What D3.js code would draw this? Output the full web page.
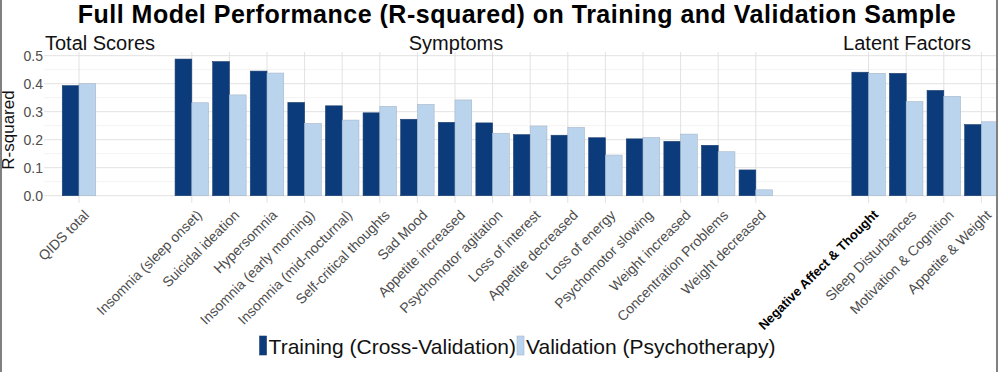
<!DOCTYPE html>
<html>
<head>
<meta charset="utf-8">
<script src="https://cdn.jsdelivr.net/npm/d3@7.9.0/dist/d3.min.js"></script>
<style>
  body { margin: 0; background: #fff; }
  svg { display: block; font-family: "Liberation Sans", Arial, sans-serif; }
</style>
</head>
<body>
<svg id="chart" width="1000" height="372"></svg>
<script>
// --- data ---
const totalLabels = ['QIDS total'];
const symptomLabels = [
  'Insomnia (sleep onset)', 'Suicidal ideation', 'Hypersomnia', 'Insomnia (early morning)',
  'Insomnia (mid-nocturnal)', 'Self-critical thoughts', 'Sad Mood', 'Appetite increased',
  'Psychomotor agitation', 'Loss of interest', 'Appetite decreased', 'Loss of energy',
  'Psychomotor slowing', 'Weight increased', 'Concentration Problems', 'Weight decreased'
];
const factorLabels = ['Negative Affect & Thought', 'Sleep Disturbances', 'Motivation & Cognition', 'Appetite & Weight'];

const trainingTotal = [0.393];
const validationTotal = [0.400];
const trainingSymptoms = [0.488, 0.479, 0.445, 0.333, 0.321, 0.296, 0.273, 0.262, 0.260, 0.218, 0.216, 0.207, 0.203, 0.194, 0.180, 0.092];
const validationSymptoms = [0.332, 0.360, 0.438, 0.258, 0.270, 0.319, 0.326, 0.342, 0.223, 0.249, 0.244, 0.145, 0.208, 0.220, 0.157, 0.021];
const trainingFactors = [0.441, 0.437, 0.376, 0.254];
const validationFactors = [0.437, 0.336, 0.355, 0.264];

const seriesNames = ['Training (Cross-Validation)', 'Validation (Psychotherapy)'];
const groupTitles = ['Total Scores', 'Symptoms', 'Latent Factors'];
const yTicks = [0, 0.1, 0.2, 0.3, 0.4, 0.5];
const yMinorTicks = [0.05, 0.15, 0.25, 0.35, 0.45];
const boldLabels = ['Negative Affect & Thought'];

const colors = { [seriesNames[0]]: '#0b3b7b', [seriesNames[1]]: '#bbd4ee' };

function drawChart() {
  const svg = d3.select('#chart');
  svg.selectAll('*').remove();

  // slot domain: groups separated by two empty slots
  const slots = [...totalLabels, '_g1', '_g2', ...symptomLabels, '_g3', '_g4', ...factorLabels];
  const labels = [...totalLabels, ...symptomLabels, ...factorLabels];
  const training = [...trainingTotal, ...trainingSymptoms, ...trainingFactors];
  const validation = [...validationTotal, ...validationSymptoms, ...validationFactors];

  const rows = [];
  labels.forEach((c, i) => {
    rows.push({ cat: c, series: seriesNames[0], value: training[i] });
    rows.push({ cat: c, series: seriesNames[1], value: validation[i] });
  });

  const step = 37.6;
  const x = d3.scalePoint().domain(slots).range([79, 79 + (slots.length - 1) * step]);
  const xInner = d3.scaleBand().domain(seriesNames).range([-step * 0.445, step * 0.445]);
  const y = d3.scaleLinear().domain([0, 0.5]).range([195.7, 55.7]);

  const panel = { left: 44, right: 996, top: 52, bottom: 203 };

  svg.append('defs').append('clipPath').attr('id', 'clip')
    .append('rect').attr('x', panel.left).attr('y', 0)
    .attr('width', panel.right - panel.left).attr('height', 372);

  const plot = svg.append('g').attr('clip-path', 'url(#clip)');

  // grid
  plot.selectAll('line.minor').data(yMinorTicks).join('line')
    .attr('class', 'minor')
    .attr('x1', panel.left).attr('x2', panel.right)
    .attr('y1', (d) => y(d)).attr('y2', (d) => y(d))
    .attr('stroke', '#efefef').attr('stroke-width', 0.8);

  plot.selectAll('line.major').data(yTicks).join('line')
    .attr('class', 'major')
    .attr('x1', panel.left).attr('x2', panel.right)
    .attr('y1', (d) => y(d)).attr('y2', (d) => y(d))
    .attr('stroke', '#e2e2e2').attr('stroke-width', 1);

  plot.selectAll('line.vgrid').data(labels).join('line')
    .attr('class', 'vgrid')
    .attr('x1', (d) => x(d)).attr('x2', (d) => x(d))
    .attr('y1', panel.top).attr('y2', panel.bottom)
    .attr('stroke', '#e2e2e2').attr('stroke-width', 1);

  // bars
  plot.selectAll('rect.bar').data(rows).join('rect')
    .attr('class', 'bar')
    .attr('x', (d) => x(d.cat) + xInner(d.series))
    .attr('width', xInner.bandwidth())
    .attr('y', (d) => y(d.value))
    .attr('height', (d) => y(0) - y(d.value))
    .attr('fill', (d) => colors[d.series])
    .attr('stroke', (d) => (d.series === seriesNames[0] ? '#1d3f70' : '#a6b6c8'))
    .attr('stroke-width', 0.6);

  // y axis labels
  svg.selectAll('text.ytick').data(yTicks).join('text')
    .attr('class', 'ytick')
    .attr('x', 43).attr('y', (d) => y(d))
    .attr('dy', '0.36em')
    .attr('text-anchor', 'end')
    .attr('font-size', 14)
    .attr('fill', '#4d4d4d')
    .text((d) => d3.format('.1f')(d));

  svg.append('text')
    .attr('transform', 'translate(14,130) rotate(-90)')
    .attr('text-anchor', 'middle')
    .attr('font-size', 17)
    .attr('fill', '#111')
    .text('R-squared');

  // x labels, rotated 45 degrees
  svg.selectAll('text.xtick').data(labels).join('text')
    .attr('class', 'xtick')
    .attr('transform', (d) => `translate(${x(d) + 4},${209}) rotate(-45)`)
    .attr('text-anchor', 'end')
    .attr('dy', '0.7em')
    .attr('font-size', (d) => (boldLabels.includes(d) ? 13 : 14))
    .attr('font-weight', (d) => (boldLabels.includes(d) ? 'bold' : 'normal'))
    .attr('fill', (d) => (boldLabels.includes(d) ? '#000' : '#4d4d4d'))
    .text((d) => d);

  // group strip titles
  const stripX = [100, 456, 907];
  svg.selectAll('text.strip').data(groupTitles).join('text')
    .attr('class', 'strip')
    .attr('x', (_d, i) => stripX[i]).attr('y', 50)
    .attr('text-anchor', 'middle')
    .attr('font-size', 20)
    .attr('fill', '#111')
    .text((d) => d);

  // title
  svg.append('text')
    .attr('x', 517).attr('y', 23)
    .attr('text-anchor', 'middle')
    .attr('font-size', 25)
    .attr('letter-spacing', 0.5)
    .attr('font-weight', 'bold')
    .attr('fill', '#000')
    .text('Full Model Performance (R-squared) on Training and Validation Sample');

  // legend
  const legend = svg.append('g');
  let cx = 0;
  seriesNames.forEach((s) => {
    const g = legend.append('g').attr('transform', `translate(${cx},0)`);
    g.append('rect').attr('x', 0).attr('y', 336).attr('width', 7).attr('height', 19)
      .attr('fill', colors[s]).attr('stroke', s === seriesNames[0] ? '#1d3f70' : '#a6b6c8').attr('stroke-width', 0.6);
    const t = g.append('text').attr('x', 9).attr('y', 354)
      .attr('font-size', 21).attr('fill', '#111').text(s);
    cx += 9 + t.node().getComputedTextLength() + 1;
  });
  legend.attr('transform', `translate(${518 - cx / 2},0)`);

  // frame
  svg.append('line').attr('x1', 1).attr('x2', 1).attr('y1', 0).attr('y2', 372)
    .attr('stroke', '#808080').attr('stroke-width', 2);
  svg.append('line').attr('x1', 997).attr('x2', 997).attr('y1', 0).attr('y2', 372)
    .attr('stroke', '#808080').attr('stroke-width', 2);
}

if (document.readyState === 'loading') {
  document.addEventListener('DOMContentLoaded', drawChart);
} else {
  drawChart();
}
</script>
</body>
</html>
